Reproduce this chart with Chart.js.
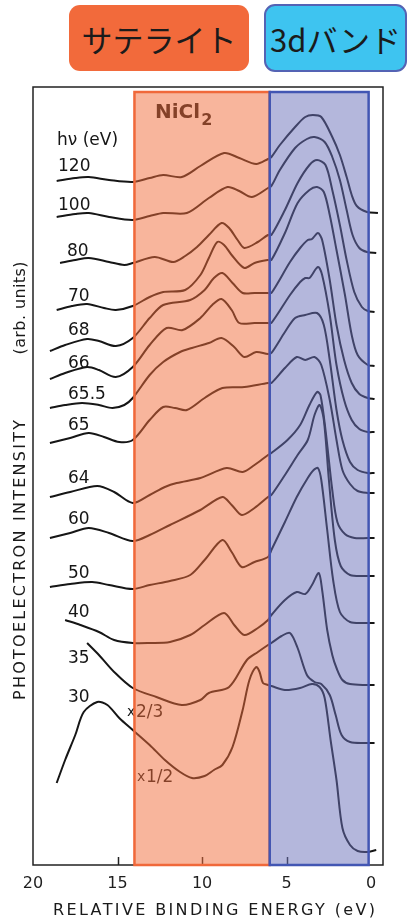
<!DOCTYPE html>
<html lang="ja">
<head>
<meta charset="utf-8">
<title>NiCl2 photoemission</title>
<script src="https://cdn.jsdelivr.net/npm/chart.js@4.4.1/dist/chart.umd.min.js"></script>
<style>
  html, body { margin: 0; padding: 0; background: #fff; }
  body { width: 414px; height: 918px; position: relative; overflow: hidden; }
  #chart { position: absolute; left: 0; top: 0; }
  .tag {
    position: absolute; box-sizing: border-box;
    display: flex; align-items: center; justify-content: center;
    font-family: "Noto Sans CJK JP", "Noto Sans", sans-serif; font-size: 31px;
    color: #1b1b1b; border-radius: 11px;
  }
  .tag.sat { left: 69px; top: 5px; width: 180px; height: 66px; background: #f26a3b; }
  .tag.band { left: 264px; top: 4px; width: 143px; height: 68px; background: #3ec4f0; border: 2px solid #5463b4; }
</style>
</head>
<body>
<div class="tag sat">サテライト</div>
<div class="tag band">3dバンド</div>
<canvas id="chart" width="414" height="918"></canvas>
<script>
(() => {
  "use strict";

  // photon energy of each spectrum, top to bottom
  const photonEnergies = ["120", "100", "80", "70", "68", "66", "65.5", "65", "64", "60", "50", "40", "35", "30"];
  const xTicks = [20, 15, 10, 5, 0];
  const satelliteRange = [14, 6];
  const bandRange = [6, 0.15];
  const shadeTop = 773;

  // [binding energy (eV), intensity + offset (arb. units)]
  const s120 = [[18.6,684],[17.5,687],[16.7,688],[15.5,685],[14.1,683],[13.1,687],[12.3,690],[11.2,688],[10.1,699],[8.7,712],[7.8,707],[6.8,701],[6.1,706],[5.9,708],[5.4,720],[4.5,738],[3.9,748],[3.45,750],[2.95,748],[2.3,728],[1.85,710],[1.45,688],[1.15,670],[0.85,659],[0.25,653],[-0.4,652]];
  const s100 = [[18.6,648],[17.5,651],[16.7,652],[15.5,648],[14.1,645],[13.1,649],[12.3,652],[10.9,652],[9.6,667],[8.5,678],[7.8,674],[7.05,668],[6.1,677],[5.9,679],[5.4,695],[4.5,717],[3.8,726],[3.35,728],[2.75,723],[2.3,708],[1.85,685],[1.45,655],[1.1,630],[0.7,617],[0.25,613],[-0.3,612]];
  const s80 = [[18.4,602],[17.5,605],[16.7,607],[15.5,603],[14.6,600],[14.1,602],[12.8,608],[11.7,603],[11.0,609],[10.3,618],[9.6,630],[8.85,642],[8.4,637],[7.9,625],[7.5,617],[6.7,623],[6.1,630],[5.9,630],[5.1,655],[4.35,682],[3.65,700],[3.2,705],[2.7,700],[2.3,675],[1.85,640],[1.45,605],[1.0,573],[0.55,558],[0.2,554],[-0.2,553]];
  const s70 = [[18.6,555],[17.7,559],[16.8,561],[15.8,557],[15.1,555],[14.1,559],[13.1,568],[12.3,573],[11.0,575],[10.1,590],[9.6,607],[9.1,623],[8.7,620],[8.25,610],[7.5,597],[6.9,602],[6.1,605],[5.9,605],[5.1,632],[4.35,662],[3.65,675],[3.2,678],[2.8,673],[2.45,650],[2.05,615],[1.55,570],[1.15,530],[0.8,510],[0.2,500],[-0.2,499]];
  const s68 = [[19.0,514],[18.1,520],[16.8,526],[16.1,524],[15.1,519],[14.1,527],[13.1,547],[12.3,560],[10.7,565],[9.85,575],[9.3,587],[8.8,592],[8.2,582],[7.6,572],[6.9,572],[6.1,572],[5.9,572],[4.8,603],[4.2,617],[3.75,625],[3.5,626],[3.15,632],[2.9,625],[2.45,585],[2.05,540],[1.6,505],[1.15,482],[0.7,471],[0.2,467],[-0.2,466]];
  const s66 = [[19.0,486],[18.1,492],[16.8,498],[16.1,495],[15.1,488],[14.1,498],[13.1,520],[12.1,537],[11.15,535],[10.1,547],[9.4,560],[8.85,566],[8.25,555],[7.8,542],[6.9,542],[6.1,542],[5.9,542],[4.8,570],[4.2,583],[3.9,587],[3.65,587],[3.15,598],[2.9,590],[2.45,550],[2.05,500],[1.6,465],[1.15,445],[0.7,436],[0.2,433],[-0.2,433]];
  const s65_5 = [[19.0,457],[18.1,460],[17.1,462],[16.1,460],[15.3,457],[14.6,460],[14.1,467],[13.1,490],[12.3,503],[11.3,513],[10.6,517],[9.6,522],[8.85,527],[8.1,518],[7.5,508],[6.8,513],[6.1,511],[5.9,512],[5.1,533],[4.5,547],[3.9,550],[3.2,552],[2.8,540],[2.45,505],[2.05,455],[1.7,425],[1.25,403],[0.8,395],[0.2,392],[-0.2,392]];
  const s65 = [[19.0,422],[17.8,427],[16.7,432],[15.8,428],[14.9,423],[14.1,425],[13.1,445],[12.3,458],[11.6,457],[10.9,455],[9.85,467],[8.8,477],[7.5,478],[6.1,482],[5.9,482],[5.1,497],[4.4,508],[3.9,505],[3.35,508],[2.95,500],[2.45,465],[2.05,425],[1.7,395],[1.25,381],[0.8,374],[0.2,372],[-0.2,372]];
  const s64 = [[19.0,368],[17.8,373],[16.2,379],[15.2,373],[14.1,362],[13.1,370],[12.2,378],[11.5,382],[10.1,387],[8.55,397],[7.6,393],[6.9,400],[6.1,410],[5.9,412],[4.95,425],[4.2,440],[3.65,460],[3.2,473],[3.0,470],[2.7,435],[2.3,375],[2.0,343],[1.55,331],[0.98,327],[0.2,327],[-0.2,327]];
  const s60 = [[19.0,327],[17.8,332],[16.7,337],[15.5,332],[14.1,324],[13.1,330],[11.9,340],[10.1,355],[8.8,368],[8.25,360],[7.65,350],[6.9,357],[6.1,368],[5.9,370],[5.1,390],[4.35,410],[3.75,425],[3.35,450],[3.05,460],[2.8,445],[2.5,385],[2.15,325],[1.8,299],[1.25,290],[0.25,289],[-0.2,289]];
  const s50 = [[19.0,278],[17.8,281],[16.5,283],[15.5,280],[14.1,276],[13.1,280],[11.9,284],[10.7,290],[9.85,305],[8.8,325],[8.25,313],[7.65,298],[6.9,303],[6.1,308],[5.9,315],[5.1,343],[4.4,368],[3.75,387],[3.4,395],[3.15,397],[2.95,385],[2.6,335],[2.25,285],[1.85,253],[1.25,243],[0.25,242],[-0.2,242]];
  const s40 = [[18.1,245],[17.2,240],[16.1,233],[15.2,225],[14.1,222],[13.1,222],[11.9,223],[10.7,230],[9.85,240],[8.7,252],[8.1,240],[7.5,230],[6.7,237],[6.1,245],[5.9,250],[5.1,265],[4.4,273],[3.9,271],[3.5,280],[3.1,292],[2.9,275],[2.6,235],[2.3,210],[2.05,197],[1.7,185],[1.25,181],[0.25,180],[-0.2,180]];
  const s35 = [[16.8,222],[16.1,210],[15.2,193],[14.1,177],[12.7,168],[11.2,160],[10.1,165],[9.6,172],[8.4,178],[7.35,205],[6.7,213],[6.1,220],[5.9,222],[5.3,229],[4.8,232],[4.35,217],[3.8,190],[3.35,183],[2.95,181],[2.45,170],[2.1,150],[1.75,130],[1.25,123],[0.25,122],[-0.2,122]];
  const s30 = [[18.6,82],[18.1,105],[17.5,130],[17.0,153],[16.2,163],[15.6,160],[14.9,147],[14.1,135],[13.1,120],[12.2,105],[11.3,93],[10.6,87],[9.85,89],[9.3,95],[8.8,100],[8.2,118],[7.6,155],[7.2,185],[6.8,198],[6.6,193],[6.4,182],[6.1,180],[5.9,179],[5.1,175],[4.2,177],[3.5,181],[3.05,178],[2.75,167],[2.4,125],[2.05,85],[1.7,37],[1.25,20],[0.8,14],[0.25,13],[-0.3,15]];

  const spectra = [s120, s100, s80, s70, s68, s66, s65_5, s65, s64, s60, s50, s40, s35, s30];
  const scaleNotes = { "35": "2/3", "30": "1/2" };

  // where each photon-energy label sits (left x, baseline y)
  const labelSpots = [[58,171],[58,210],[67,256],[68,301],[68,335],[68,368],[68,399],[68,430],[68,483],[68,524],[68,578],[68,617],[68,663],[68,702]];
  const noteSpots = { "35": [127, 717], "30": [137, 782] };

  const INK = "#161616";
  const LABEL_FONT = '"DejaVu Sans", "Liberation Sans", sans-serif';

  function drawSpaced(ctx, text, cx, cy, width) {
    ctx.letterSpacing = "0px";
    const w0 = ctx.measureText(text).width;
    const sp = Math.max(0, (width - w0) / (text.length - 1));
    ctx.letterSpacing = sp.toFixed(2) + "px";
    ctx.textAlign = "left";
    ctx.fillText(text, cx - width / 2, cy);
    ctx.letterSpacing = "0px";
  }

  const decor = {
    id: "decor",
    afterDatasetsDraw(chart) {
      const { ctx, chartArea: a, scales: { x, y } } = chart;
      ctx.save();

      // frame and inner ticks
      ctx.strokeStyle = "#222";
      ctx.lineWidth = 1.5;
      ctx.strokeRect(a.left, a.top, a.right - a.left, a.bottom - a.top);
      xTicks.slice(1, -1).forEach((v) => {
        const px = Math.round(x.getPixelForValue(v)) + 0.5;
        ctx.beginPath();
        ctx.moveTo(px, a.bottom);
        ctx.lineTo(px, a.bottom - 8);
        ctx.stroke();
      });

      // text inside the plot (drawn before the tint so it picks up its colour)
      ctx.fillStyle = INK;
      ctx.textBaseline = "alphabetic";
      ctx.textAlign = "left";
      ctx.font = "17px " + LABEL_FONT;
      ctx.fillText("h\u03bd (eV)", 57, 145);
      photonEnergies.forEach((e, i) => {
        ctx.fillText(e, labelSpots[i][0], labelSpots[i][1]);
      });
      Object.keys(scaleNotes).forEach((k) => {
        const [nx, ny] = noteSpots[k];
        ctx.font = "14px " + LABEL_FONT;
        ctx.fillText("x", nx, ny - 1);
        ctx.font = "17px " + LABEL_FONT;
        ctx.fillText(scaleNotes[k], nx + 9, ny);
      });
      ctx.font = "bold 20px " + LABEL_FONT;
      ctx.fillText("NiCl", 155, 118);
      const nw = ctx.measureText("NiCl").width;
      ctx.font = "bold 16px " + LABEL_FONT;
      ctx.fillText("2", 155 + nw + 1, 125);

      // shaded energy windows
      const top = y.getPixelForValue(shadeTop);
      const shade = (range, fill, edge) => {
        const x0 = x.getPixelForValue(range[0]);
        const x1 = x.getPixelForValue(range[1]);
        ctx.fillStyle = fill;
        ctx.fillRect(x0, top, x1 - x0, a.bottom - top);
        ctx.strokeStyle = edge;
        ctx.lineWidth = 2.5;
        ctx.strokeRect(x0, top, x1 - x0, a.bottom - top);
      };
      shade(satelliteRange, "rgba(242,107,58,0.5)", "#f0683a");
      shade(bandRange, "rgba(106,111,186,0.5)", "#4256b3");

      // axis titles
      ctx.fillStyle = "#1a1a1a";
      ctx.font = "16px " + LABEL_FONT;
      ctx.textBaseline = "alphabetic";
      drawSpaced(ctx, "RELATIVE BINDING ENERGY (eV)", 214, 915, 322);

      ctx.translate(25, 0);
      ctx.rotate(-Math.PI / 2);
      drawSpaced(ctx, "PHOTOELECTRON INTENSITY", -560, 0, 280);
      drawSpaced(ctx, "(arb. units)", -308, 0, 93);
      ctx.restore();
    },
  };

  function init() {
    if (typeof Chart === "undefined") return;
    Chart.defaults.font.family = LABEL_FONT;

    new Chart(document.getElementById("chart"), {
      type: "scatter",
      data: {
        datasets: spectra.map((pts, i) => ({
          label: photonEnergies[i] + " eV",
          data: pts,
          showLine: true,
          borderColor: INK,
          borderWidth: 2,
          pointRadius: 0,
          tension: 0.3,
          capBezierPoints: true,
        })),
      },
      options: {
        responsive: false,
        animation: false,
        events: [],
        layout: { padding: { left: 33, right: 31, top: 87, bottom: 0 } },
        scales: {
          x: {
            type: "linear",
            reverse: true,
            min: -0.7,
            max: 20,
            afterBuildTicks: (s) => { s.ticks = xTicks.map((v) => ({ value: v })); },
            afterFit: (s) => { s.height = 53; },
            grid: { display: false, drawTicks: false },
            border: { display: false },
            ticks: {
              padding: 9,
              color: "#1e1e1e",
              font: { size: 16 },
              callback: (v) => String(v),
            },
          },
          y: { display: false, min: 0, max: 778 },
        },
        plugins: { legend: { display: false }, tooltip: { enabled: false } },
      },
      plugins: [decor],
    });
  }

  document.addEventListener("DOMContentLoaded", init);
})();
</script>
</body>
</html>
